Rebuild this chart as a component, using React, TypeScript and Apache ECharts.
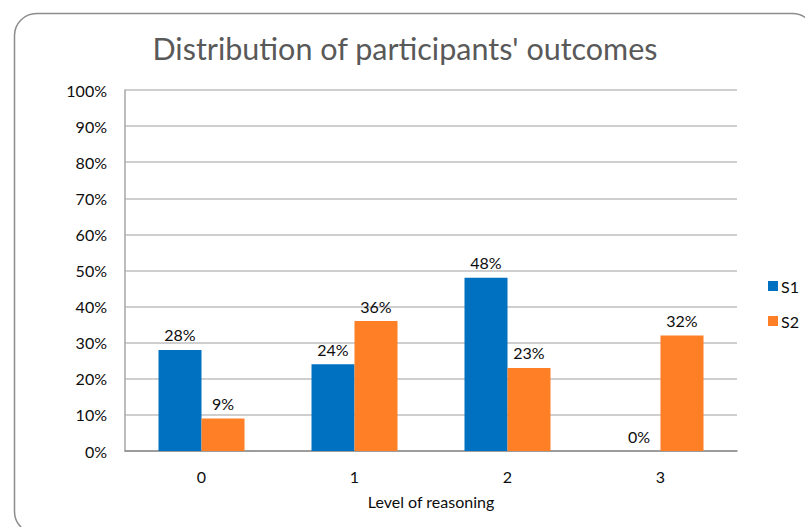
import React, { useEffect, useRef } from "react";
import * as echarts from "echarts";

const categories = ["0", "1", "2", "3"];
const s1Values = [28, 24, 48, 0];
const s2Values = [9, 36, 23, 32];
const yTicks = [0, 10, 20, 30, 40, 50, 60, 70, 80, 90, 100];

const FONT = "Lato, 'Open Sans', sans-serif";
const TXT = "#0d0d0d";

export default function App() {
  const ref = useRef<HTMLDivElement>(null);
  useEffect(() => {
    if (!ref.current) return;
    const chart = echarts.init(ref.current, null, { renderer: "svg" });
    const labelStyle = {
      show: true,
      position: "top",
      distance: 7,
      formatter: "{c}%",
      fontFamily: FONT,
      fontSize: 16,
      color: TXT,
    };
    chart.setOption({
      animation: false,
      backgroundColor: "#ffffff",
      textStyle: { fontFamily: FONT },
      title: {
        text: "Distribution of participants' outcomes",
        left: 400,
        top: 27,
        textAlign: "center",
        textStyle: { fontFamily: FONT, fontSize: 30.5, fontWeight: "normal", color: "#595959" },
      },
      graphic: [
        {
          type: "rect",
          shape: { x: 14.5, y: 13.5, width: 800, height: 520, r: 22 },
          style: { fill: "none", stroke: "#8c8c8c", lineWidth: 1.5 },
          z: 0,
          silent: true,
        },
      ],
      legend: {
        orient: "vertical",
        left: 763,
        top: 273,
        itemWidth: 10,
        itemHeight: 10,
        itemGap: 19,
        icon: "rect",
        textStyle: { fontFamily: FONT, fontSize: 16, color: TXT, padding: [0, 0, 0, -2] },
        data: ["S1", "S2"],
      },
      grid: { left: 125, right: 68, top: 90, bottom: 76 },
      xAxis: {
        type: "category",
        data: categories,
        name: "Level of reasoning",
        nameLocation: "middle",
        nameGap: 42,
        nameTextStyle: { fontFamily: FONT, fontSize: 16, color: TXT },
        axisLine: { lineStyle: { color: "#8c8c8c", width: 1.5 } },
        axisTick: { show: false },
        axisLabel: { fontFamily: FONT, fontSize: 16, color: TXT, margin: 17 },
      },
      yAxis: {
        type: "value",
        min: 0,
        max: 100,
        interval: 10,
        axisLine: { show: true, lineStyle: { color: "#a6a6a6", width: 1.5 } },
        axisTick: { show: false },
        axisLabel: {
          fontFamily: FONT,
          fontSize: 16,
          color: TXT,
          margin: 18,
          formatter: (v: number) => (yTicks.includes(v) ? v + "%" : ""),
        },
        splitLine: { lineStyle: { color: "#bfbfbf", width: 1.5 } },
      },
      series: [
        {
          name: "S1",
          type: "bar",
          data: s1Values,
          barWidth: 43,
          barGap: "0%",
          itemStyle: { color: "#0070c0" },
          label: labelStyle,
        },
        {
          name: "S2",
          type: "bar",
          data: s2Values,
          barWidth: 43,
          barGap: "0%",
          itemStyle: { color: "#ff7f27" },
          label: labelStyle,
        },
      ],
    });
    return () => chart.dispose();
  }, []);
  return (
    <div
      ref={ref}
      style={{ position: "fixed", left: 0, top: 0, width: 805, height: 527, background: "#fff" }}
    />
  );
}
